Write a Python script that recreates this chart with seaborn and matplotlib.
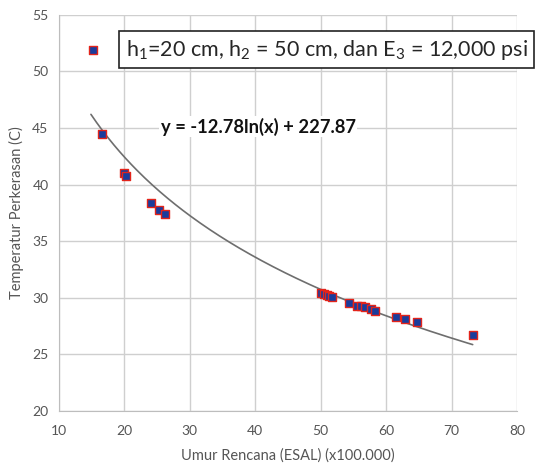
import numpy as np
import matplotlib
matplotlib.use("Agg")
import matplotlib.pyplot as plt
import seaborn as sns

# ESAL (x100.000) vs pavement temperature (C)
esal = [16.6, 20.0, 20.3, 24.1, 25.3, 26.2,
        50.1, 50.5, 50.9, 51.3, 51.7,
        54.3, 55.5, 56.1, 56.7, 57.7, 58.3,
        61.5, 62.8, 64.7, 73.3]
temp = [44.5, 41.0, 40.8, 38.4, 37.8, 37.4,
        30.4, 30.3, 30.25, 30.2, 30.1,
        29.5, 29.3, 29.27, 29.2, 29.0, 28.85,
        28.35, 28.14, 27.9, 26.7]

# log trendline reported by the source: y = -12.78 ln(x) + 227.87 (x in ESAL)
coef_a = -12.78
coef_b = 227.87
trend_start = 14.9
trend_end = 73.2

series_label = "h$_1$=20 cm, h$_2$ = 50 cm, dan E$_3$ = 12,000 psi"
eq_label = "y = -12.78ln(x) + 227.87"

sns.set_style("white")
plt.rcParams["font.family"] = ["Lato", "DejaVu Sans"]
plt.rcParams["mathtext.default"] = "regular"

fig = plt.figure(figsize=(5.45, 4.66), dpi=100)
ax = fig.add_axes([0.108, 0.118, 0.841, 0.850])

xs = np.linspace(trend_start, trend_end, 200)
ax.plot(xs, coef_a * np.log(xs * 1e5) + coef_b, color="#6e6e6e", lw=1.2, zorder=2)

sns.scatterplot(x=esal, y=temp, ax=ax, marker="s", s=26, color="#1a3c9c",
                edgecolor="#e3241b", linewidth=1.0, label=series_label, zorder=3)

ax.set_xlim(10, 80)
ax.set_ylim(20, 55)
ax.set_xticks(range(10, 81, 10))
ax.set_yticks(range(20, 56, 5))
ax.grid(True, color="#cfcfcf", lw=1.0)
ax.set_axisbelow(True)
for side in ["top", "right"]:
    ax.spines[side].set_visible(False)
for side in ["left", "bottom"]:
    ax.spines[side].set_color("#bdbdbd")
ax.tick_params(axis="both", length=4, color="#bdbdbd", labelsize=10,
               labelcolor="#555555", direction="out")
ax.tick_params(axis="x", pad=6)

ax.set_xlabel("Umur Rencana (ESAL) (x100.000)", fontsize=10.5, color="#555555", labelpad=8)
ax.set_ylabel("Temperatur Perkerasan (C)", fontsize=10.5, color="#555555", labelpad=6)

leg = ax.legend(loc="center left", bbox_to_anchor=(0.033, 0.912), frameon=False,
                fontsize=15.5, handlelength=1.0, handletextpad=1.0,
                borderaxespad=0, markerscale=1.0)
for t in leg.get_texts():
    t.set_bbox(dict(boxstyle="square,pad=0.3", fc="white", ec="#222222", lw=1.2))

ax.text(0.435, 0.718, eq_label, transform=ax.transAxes, fontsize=13.2, ha="center",
        va="center", color="#111111", fontweight="bold",
        bbox=dict(fc="white", ec="none", pad=1))

fig.savefig("out.png", dpi=100)
